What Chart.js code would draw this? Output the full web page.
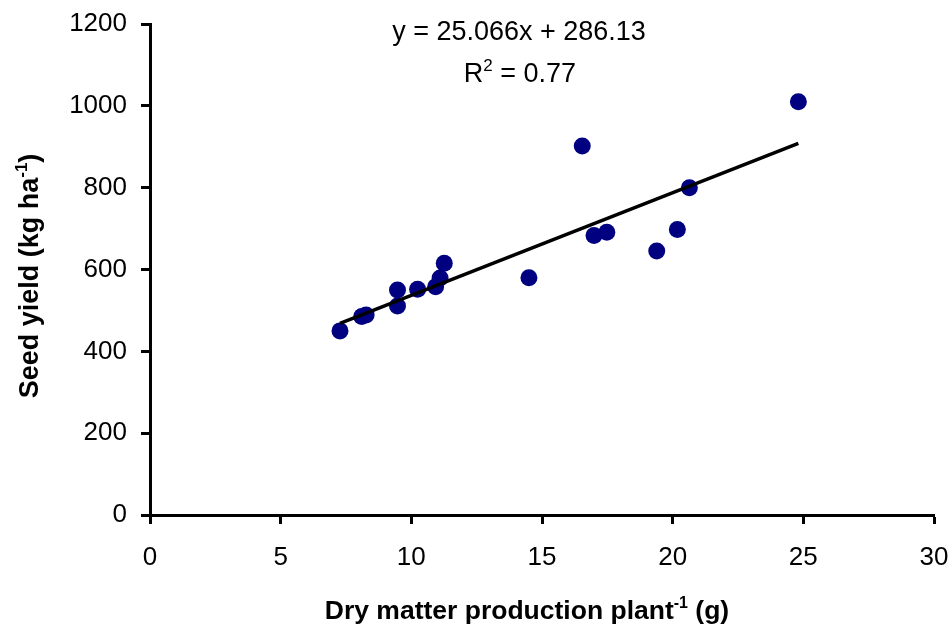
<!DOCTYPE html>
<html>
<head>
<meta charset="utf-8">
<script src="https://cdn.jsdelivr.net/npm/chart.js@4.4.1/dist/chart.umd.min.js"></script>
<style>
    html, body { margin: 0; padding: 0; background: #fff; }
    #wrap { width: 952px; height: 625px; position: relative; }
</style>
</head>
<body>
<div id="wrap"><canvas id="seedChart"></canvas></div>
<script>
// 数据
const dryMatter = [7.27, 8.1, 8.27, 9.47, 9.47, 10.24, 10.93, 11.1, 11.26, 14.5, 16.54, 16.99, 17.48, 19.39, 20.18, 20.64, 24.81];
const seedYield = [450, 485, 489, 511, 550, 552, 558, 579, 615, 580, 902, 683, 691, 645, 698, 800, 1010];

// 趋势线 y = 25.066x + 286.13
const slope = 25.066;
const intercept = 286.13;
const rSquared = '0.77';

const xTicks = [0, 5, 10, 15, 20, 25, 30];
const yTicks = [0, 200, 400, 600, 800, 1000, 1200];

const FONT = "'Liberation Sans', Arial, Helvetica, sans-serif";

const points = dryMatter.map((x, i) => ({ x: x, y: seedYield[i] }));
const xMin = Math.min(...dryMatter);
const xMax = Math.max(...dryMatter);
const trend = [
    { x: xMin, y: slope * xMin + intercept },
    { x: xMax, y: slope * xMax + intercept }
];

// 带上标的文字
function drawRich(ctx, parts, x, y, size, bold) {
    const main = (bold ? 'bold ' : '') + size + 'px ' + FONT;
    const sup = (bold ? 'bold ' : '') + Math.round(size * 0.62) + 'px ' + FONT;
    let total = 0;
    parts.forEach(p => {
        ctx.font = p.sup ? sup : main;
        p.w = ctx.measureText(p.t).width;
        total += p.w;
    });
    let cx = x - total / 2;
    ctx.textAlign = 'left';
    ctx.textBaseline = 'alphabetic';
    parts.forEach(p => {
        ctx.font = p.sup ? sup : main;
        ctx.fillText(p.t, cx, p.sup ? y - size * 0.42 : y);
        cx += p.w;
    });
}

const labelPlugin = {
    id: 'labels',
    afterDraw(chart) {
        const ctx = chart.ctx;
        ctx.save();
        ctx.fillStyle = '#000';

        // 回归方程
        drawRich(ctx, [{ t: 'y = ' + slope + 'x + ' + intercept }], 519, 40, 27, false);
        drawRich(ctx, [{ t: 'R' }, { t: '2', sup: true }, { t: ' = ' + rSquared }], 520, 82, 27, false);

        // x 轴标题
        drawRich(ctx, [{ t: 'Dry matter production plant' }, { t: '-1', sup: true }, { t: ' (g)' }], 527, 619, 26.5, true);

        // y 轴标题
        ctx.translate(38, 276);
        ctx.rotate(-Math.PI / 2);
        drawRich(ctx, [{ t: 'Seed yield (kg ha' }, { t: '-1', sup: true }, { t: ')' }], 0, 0, 27, true);
        ctx.restore();
    }
};

new Chart(document.getElementById('seedChart').getContext('2d'), {
    type: 'scatter',
    data: {
        datasets: [{
            type: 'line',
            data: trend,
            borderColor: '#000',
            borderWidth: 3.5,
            pointRadius: 0,
            fill: false,
            order: 0
        }, {
            data: points,
            backgroundColor: '#000080',
            borderWidth: 0,
            pointRadius: 8.5,
            order: 1
        }]
    },
    options: {
        responsive: true,
        maintainAspectRatio: false,
        animation: false,
        layout: { padding: { top: 24, right: 18, left: 0, bottom: 0 } },
        plugins: {
            legend: { display: false },
            tooltip: { enabled: false }
        },
        scales: {
            x: {
                type: 'linear',
                min: 0,
                max: 30,
                afterFit: s => { s.height = 110; s.paddingLeft = 0; s.paddingRight = 0; },
                afterBuildTicks: s => { s.ticks = xTicks.map(v => ({ value: v })); },
                border: { color: '#000', width: 3 },
                grid: { drawOnChartArea: false, tickLength: 9, tickWidth: 3, tickColor: '#000' },
                ticks: { color: '#000', padding: 18, font: { family: FONT, size: 26 }, callback: v => String(v) }
            },
            y: {
                type: 'linear',
                min: 0,
                max: 1200,
                afterFit: s => { s.width = 150; s.paddingTop = 0; s.paddingBottom = 0; },
                afterBuildTicks: s => { s.ticks = yTicks.map(v => ({ value: v })); },
                border: { color: '#000', width: 3 },
                grid: { drawOnChartArea: false, tickLength: 9, tickWidth: 3, tickColor: '#000' },
                ticks: { color: '#000', padding: 14, font: { family: FONT, size: 26 }, callback: v => String(v) }
            }
        }
    },
    plugins: [labelPlugin]
});
</script>
</body>
</html>
